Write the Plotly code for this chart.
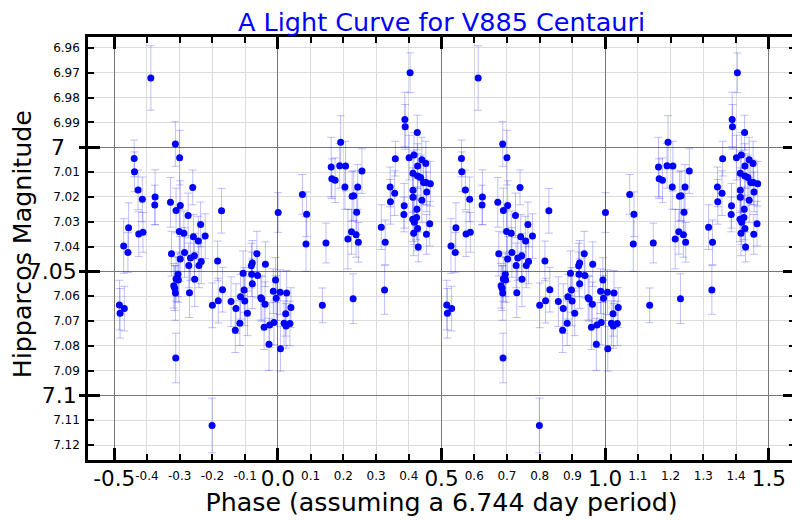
import plotly.graph_objects as go

# ---------------- data (phase in [0,1), Hipparcos magnitude, error) ----------------
phase = [0.001, 0.007, 0.008, 0.019, 0.024, 0.025, 0.027, 0.037, 0.040, 0.075,
         0.088, 0.086, 0.136, 0.147, 0.163, 0.165, 0.175, 0.192, 0.189, 0.207,
         0.205, 0.227, 0.232, 0.244, 0.241, 0.225, 0.214, 0.239, 0.246, 0.230,
         0.257, 0.316, 0.328, 0.326, 0.343, 0.357, 0.344, 0.359, 0.404, 0.388,
         0.389, 0.426, 0.401, 0.416, 0.440, 0.452, 0.427, 0.413, 0.427, 0.436,
         0.445, 0.453, 0.466, 0.413, 0.455, 0.413, 0.440, 0.386, 0.385, 0.425,
         0.412, 0.417, 0.424, 0.427, 0.464, 0.415, 0.454, 0.429,
         0.516, 0.531, 0.518, 0.529, 0.542, 0.544, 0.561, 0.562, 0.573, 0.586,
         0.575, 0.588, 0.612, 0.625, 0.624, 0.672, 0.675, 0.687, 0.700, 0.689,
         0.702, 0.726, 0.740, 0.699, 0.713, 0.742, 0.715, 0.733, 0.745, 0.702,
         0.728, 0.695, 0.689, 0.696, 0.682, 0.685, 0.687, 0.746, 0.730, 0.688,
         0.764, 0.757, 0.778, 0.759, 0.766, 0.828, 0.816, 0.800, 0.818, 0.831,
         0.799, 0.857, 0.872, 0.870, 0.884, 0.886, 0.894, 0.897, 0.899, 0.907,
         0.919, 0.922, 0.920, 0.922, 0.936, 0.938, 0.948, 0.951, 0.961, 0.962,
         0.958, 0.973, 0.975, 0.988, 0.986, 0.993, 0.995]

mag = [7.0263, 7.0584, 7.0812, 7.0709, 7.0671, 7.0720, 7.0587, 7.0710, 7.0646, 7.0190,
       7.0270, 7.0390, 7.0637, 7.0386, 7.0080, 7.0127, 7.0133, 6.9980, 7.0075, 7.0076,
       7.0160, 7.0198, 7.0195, 7.0160, 7.0262, 7.0341, 7.0370, 7.0353, 7.0383, 7.0610,
       7.0096, 7.0322, 7.0383, 7.0575, 7.0160, 7.0185, 7.0220, 7.0046, 6.9700, 6.9888,
       6.9918, 6.9941, 7.0042, 7.0031, 7.0050, 7.0066, 7.0076, 7.0105, 7.0116, 7.0122,
       7.0142, 7.0142, 7.0147, 7.0173, 7.0180, 7.0202, 7.0214, 7.0236, 7.0271, 7.0250,
       7.0290, 7.0302, 7.0283, 7.0327, 7.0308, 7.0347, 7.0351, 7.0402,
       7.0636, 7.0650, 7.0669, 7.0398, 7.0424, 7.0324, 7.0045, 7.0099, 7.0172, 7.0210,
       7.0350, 7.0343, 6.9721, 7.0201, 7.0233, 7.0222, 7.0429, 6.9987, 7.0042, 7.0255,
       7.0235, 7.0275, 7.0162, 7.0340, 7.0347, 7.0361, 7.0424, 7.0446, 7.0437, 7.0450,
       7.0476, 7.0512, 7.0531, 7.0535, 7.0558, 7.0568, 7.0587, 7.0532, 7.0586, 7.0849,
       7.0311, 7.0378, 7.0358, 7.0476, 7.0460, 7.0256, 7.0458, 7.0637, 7.0618, 7.0574,
       7.1121, 7.0622, 7.0650, 7.0737, 7.0709, 7.0602, 7.0508, 7.0575, 7.0619, 7.0669,
       7.0477, 7.0466, 7.0512, 7.0550, 7.0429, 7.0517, 7.0606, 7.0611, 7.0633, 7.0471,
       7.0725, 7.0794, 7.0716, 7.0706, 7.0580, 7.0535, 7.0608]

err = [0.008, 0.009, 0.009, 0.009, 0.009, 0.009, 0.009, 0.009, 0.008, 0.008,
       0.009, 0.011, 0.007, 0.008, 0.012, 0.008, 0.009, 0.0107, 0.009, 0.010,
       0.009, 0.010, 0.010, 0.009, 0.009, 0.009, 0.012, 0.009, 0.008, 0.010,
       0.009, 0.009, 0.009, 0.0098, 0.008, 0.009, 0.009, 0.007, 0.008, 0.011,
       0.009, 0.007, 0.009, 0.009, 0.009, 0.009, 0.009, 0.009, 0.009, 0.009,
       0.009, 0.009, 0.009, 0.009, 0.008, 0.009, 0.009, 0.009, 0.007, 0.009,
       0.009, 0.009, 0.009, 0.009, 0.009, 0.009, 0.008, 0.006,
       0.010, 0.009, 0.010, 0.011, 0.008, 0.010, 0.0074, 0.008, 0.008, 0.009,
       0.009, 0.008, 0.013, 0.011, 0.008, 0.010, 0.009, 0.009, 0.011, 0.009,
       0.010, 0.009, 0.007, 0.009, 0.009, 0.009, 0.010, 0.009, 0.009, 0.009,
       0.009, 0.009, 0.009, 0.009, 0.009, 0.009, 0.011, 0.011, 0.010, 0.010,
       0.009, 0.010, 0.009, 0.009, 0.009, 0.009, 0.008, 0.009, 0.009, 0.009,
       0.011, 0.010, 0.010, 0.009, 0.009, 0.009, 0.009, 0.009, 0.010, 0.009,
       0.009, 0.009, 0.009, 0.010, 0.009, 0.009, 0.009, 0.009, 0.009, 0.009,
       0.009, 0.0105, 0.009, 0.009, 0.009, 0.009, 0.009]

# tick values / labels
x_minor_vals = [-0.5, -0.4, -0.3, -0.2, -0.1, 0.0, 0.1, 0.2, 0.3, 0.4, 0.5,
                0.6, 0.7, 0.8, 0.9, 1.0, 1.1, 1.2, 1.3, 1.4, 1.5]
x_minor_text = ["", "-0.4", "-0.3", "-0.2", "-0.1", "", "0.1", "0.2", "0.3", "0.4", "",
                "0.6", "0.7", "0.8", "0.9", "", "1.1", "1.2", "1.3", "1.4", ""]
x_major_vals = [-0.5, 0.0, 0.5, 1.0, 1.5]
x_major_text = ["-0.5", "0.0", "0.5", "1.0", "1.5"]

y_minor_vals = [6.96, 6.97, 6.98, 6.99, 7.00, 7.01, 7.02, 7.03, 7.04, 7.05,
                7.06, 7.07, 7.08, 7.09, 7.10, 7.11, 7.12]
y_minor_text = ["6.96", "6.97", "6.98", "6.99", "", "7.01", "7.02", "7.03", "7.04", "",
                "7.06", "7.07", "7.08", "7.09", "", "7.11", "7.12"]
y_major_vals = [7.00, 7.05, 7.10]
y_major_text = ["", "7.05", "7.1"]      # long major labels
y_major_short_vals = [7.00]
y_major_short_text = ["7"]              # short major label (sits further from the axis)

TITLE = "A Light Curve for V885 Centauri"
X_TITLE = "Phase (assuming a 6.744 day period)"
Y_TITLE = "Hipparcos Magnitude"

FOLD_WINDOW = (-0.5, 1.5)
X_RANGE = [-0.58, 1.58]
Y_RANGE = [7.126, 6.9556]

# fold the light curve over two cycles
xs, ys, es = [], [], []
for p, m, e in zip(phase, mag, err):
    for shift in (-1, 0, 1):
        q = p + shift
        if FOLD_WINDOW[0] <= q <= FOLD_WINDOW[1]:
            xs.append(q)
            ys.append(m)
            es.append(e)

fig = go.Figure()
fig.add_trace(go.Scatter(
    x=xs, y=ys, mode="markers",
    marker=dict(size=7, color="#0000ff"),
    error_y=dict(type="data", array=es, visible=True,
                 color="rgba(0,0,255,0.25)", thickness=1, width=4),
    hoverinfo="skip",
))
# empty traces to host the overlay axes
fig.add_trace(go.Scatter(x=[], y=[], xaxis="x2", yaxis="y2", hoverinfo="skip"))
fig.add_trace(go.Scatter(x=[], y=[], xaxis="x", yaxis="y3", hoverinfo="skip"))
fig.add_trace(go.Scatter(x=[], y=[], xaxis="x", yaxis="y4", hoverinfo="skip"))

common_minor = dict(ticks="inside", ticklen=6, tickwidth=1.5, tickcolor="black",
                    showgrid=True, gridcolor="#dcdcdc", gridwidth=1,
                    showline=True, linecolor="black", linewidth=2.5,
                    mirror="ticks", zeroline=False, tickmode="array",
                    automargin=False)
common_major = dict(ticks="inside", ticklen=12, tickwidth=3, tickcolor="black",
                    showgrid=True, gridcolor="#777777", gridwidth=1.3,
                    showline=True, linecolor="black", linewidth=2.5,
                    mirror="ticks", zeroline=False, tickmode="array",
                    automargin=False)

fig.update_layout(
    width=800, height=520,
    margin=dict(l=80, r=13, t=29, b=68, autoexpand=False),
    plot_bgcolor="white", paper_bgcolor="white",
    font=dict(family="DejaVu Sans", color="black"),
    showlegend=False,
    title=dict(text=TITLE,
               font=dict(size=25.5, color="#0000ff", family="DejaVu Sans"),
               x=0.5, xref="paper", xanchor="center",
               y=1 - 14 / 520, yref="container", yanchor="middle"),
    xaxis=dict(range=X_RANGE, tickvals=x_minor_vals, ticktext=x_minor_text,
               tickfont=dict(size=12), ticklabelstandoff=3,
               title=dict(text=X_TITLE, font=dict(size=25.3), standoff=12),
               **common_minor),
    yaxis=dict(range=Y_RANGE, tickvals=y_minor_vals, ticktext=y_minor_text,
               tickfont=dict(size=12), ticklabelstandoff=3,
               **common_minor),
    xaxis2=dict(range=X_RANGE, overlaying="x", anchor="y2", side="bottom",
                tickvals=x_major_vals, ticktext=x_major_text,
                tickfont=dict(size=21.5), ticklabelstandoff=-3, **common_major),
    yaxis2=dict(range=Y_RANGE, overlaying="y", anchor="x2", side="left",
                tickvals=y_major_vals, ticktext=y_major_text,
                tickfont=dict(size=22), ticklabelstandoff=4, **common_major),
    yaxis3=dict(range=Y_RANGE, overlaying="y", anchor="x", side="left",
                tickmode="array", tickvals=y_major_vals, showticklabels=False,
                ticks="outside", ticklen=8, tickwidth=3, tickcolor="black",
                showgrid=False, showline=False, zeroline=False,
                mirror="ticks", automargin=False),
    yaxis4=dict(range=Y_RANGE, overlaying="y", anchor="x", side="left",
                tickmode="array", tickvals=y_major_short_vals,
                ticktext=y_major_short_text, tickfont=dict(size=22),
                ticks="", ticklabelstandoff=22,
                showgrid=False, showline=False, zeroline=False,
                automargin=False),
    annotations=[dict(text=Y_TITLE, textangle=-90, showarrow=False,
                      xref="paper", yref="paper", x=-(80 - 14) / 707, y=0.51,
                      xanchor="center", yanchor="middle",
                      font=dict(size=25.3, color="black", family="DejaVu Sans"))],
)

fig.write_html("out.html")
